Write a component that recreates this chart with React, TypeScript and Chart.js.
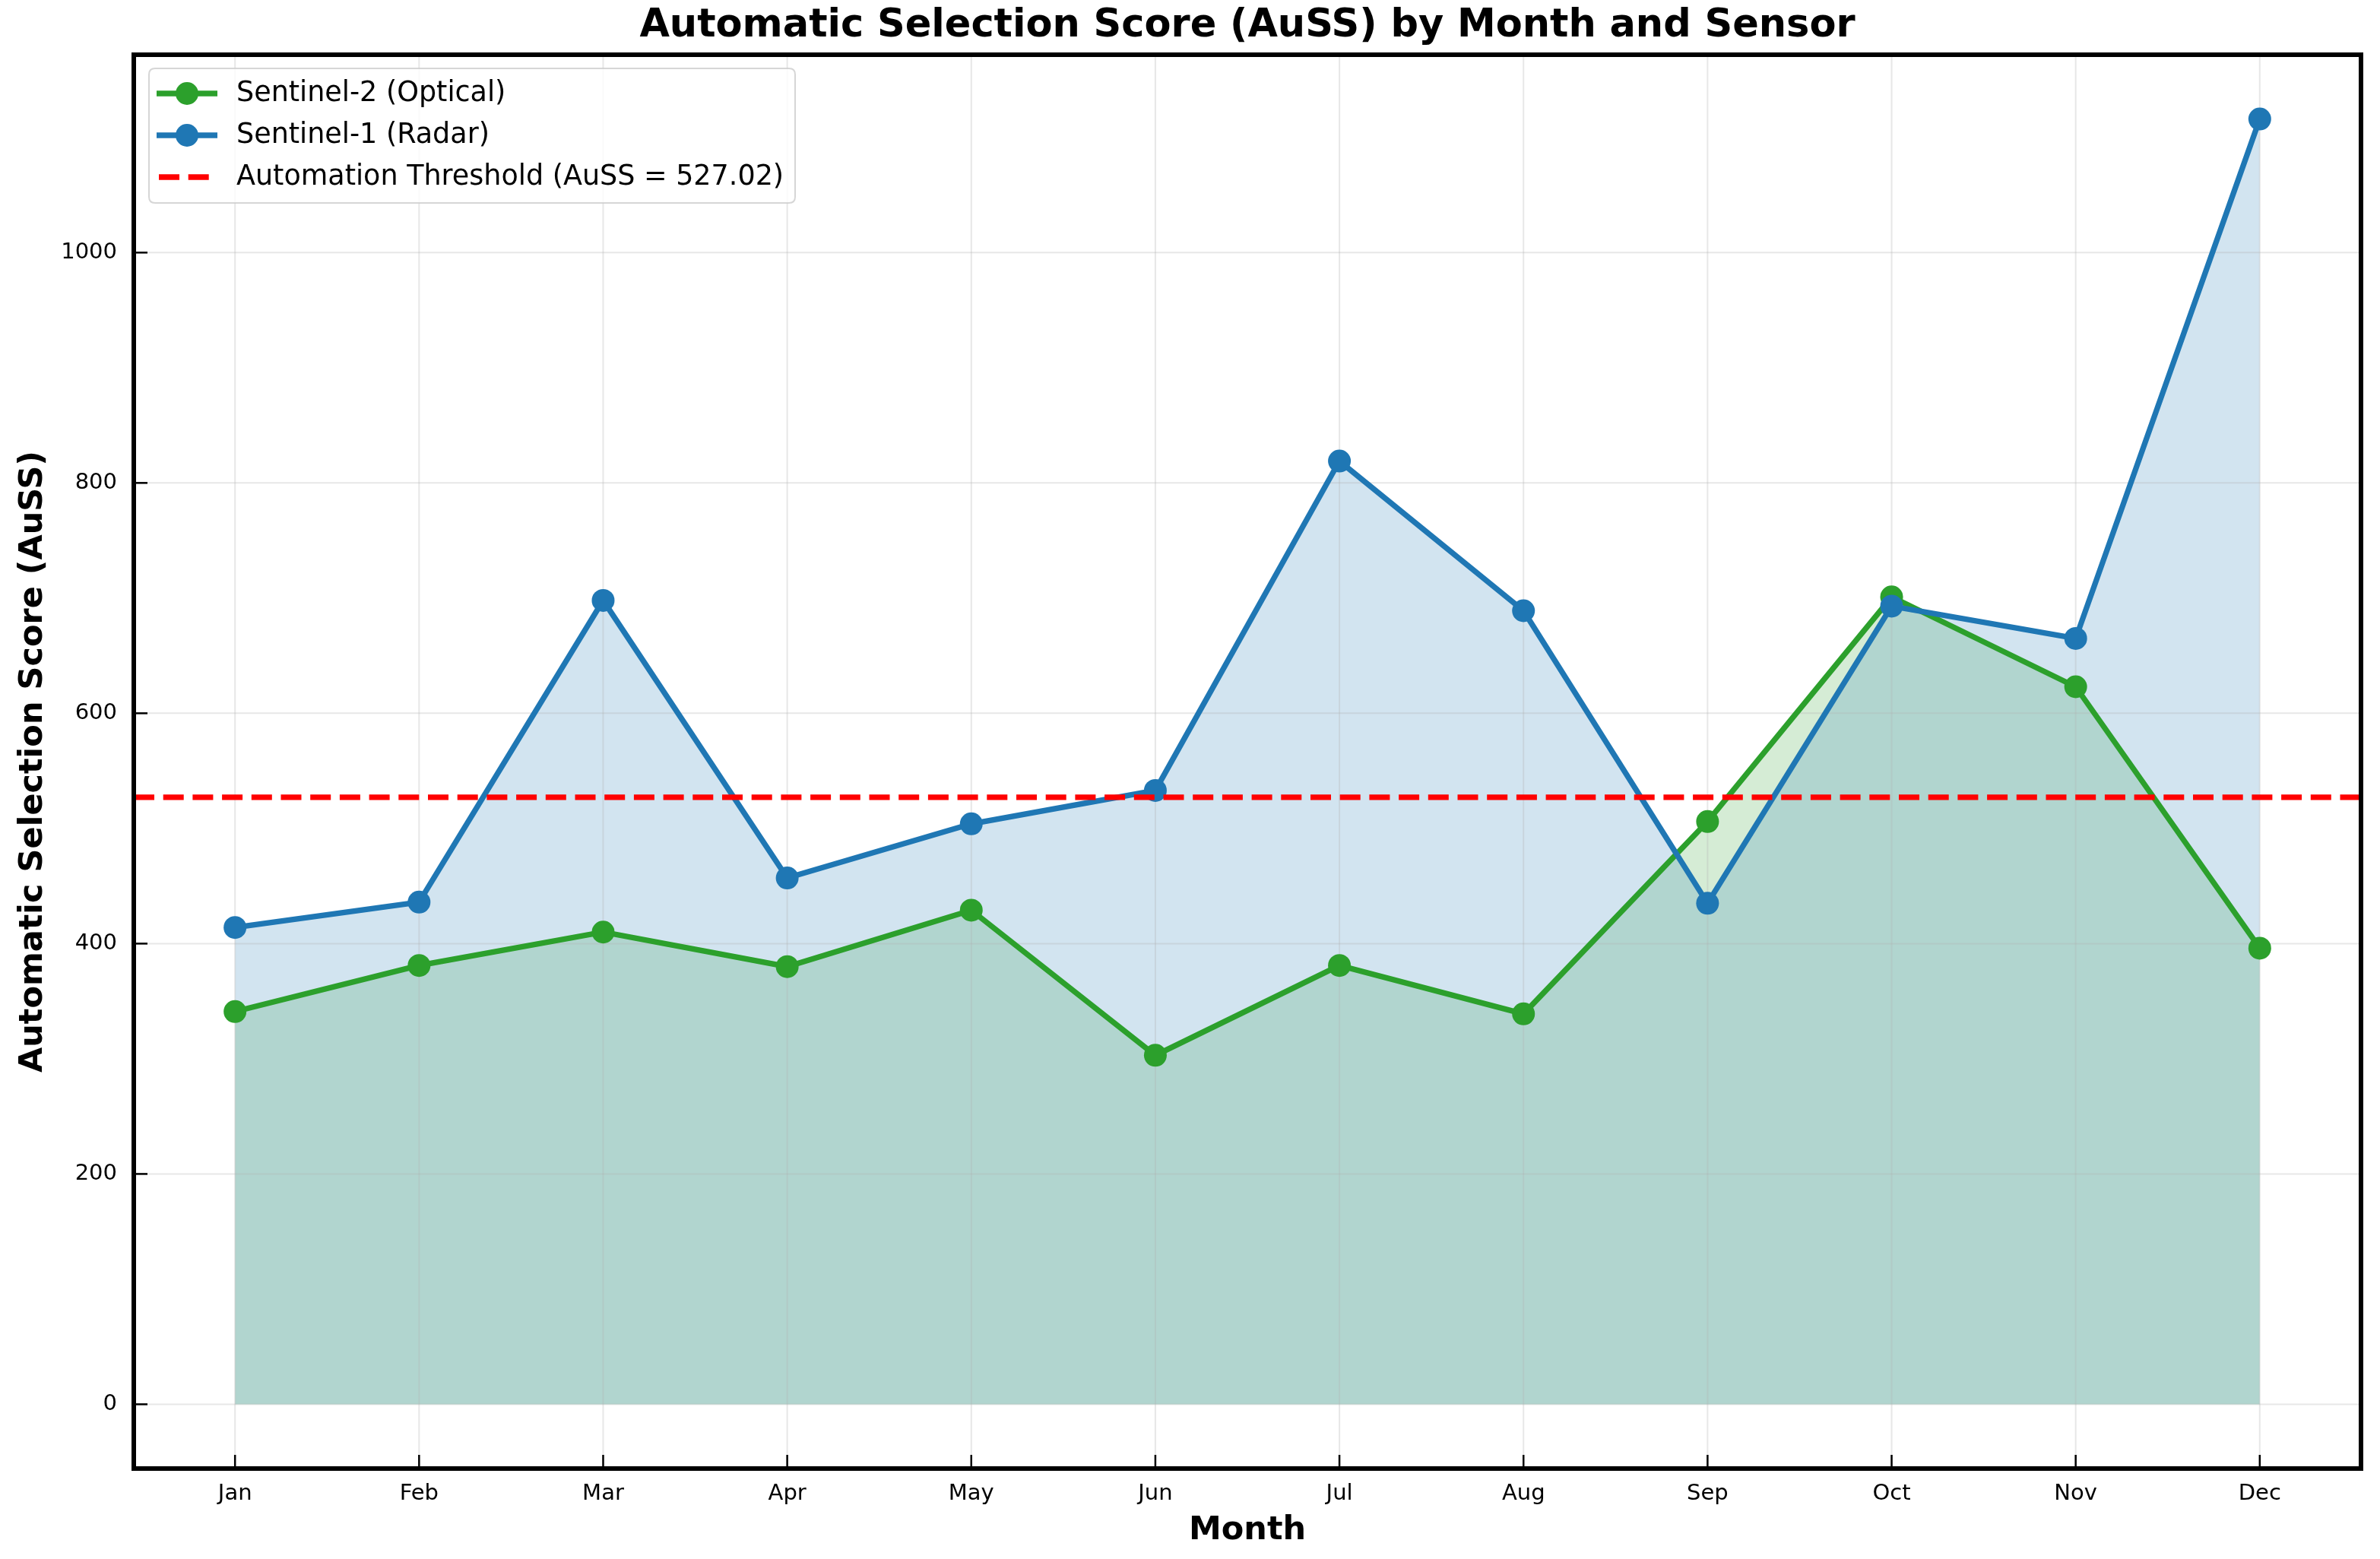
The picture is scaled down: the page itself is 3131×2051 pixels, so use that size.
import React, { useEffect, useRef } from "react";
import { Chart, registerables } from "chart.js";

Chart.register(...registerables);

const MONTHS = ["Jan", "Feb", "Mar", "Apr", "May", "Jun", "Jul", "Aug", "Sep", "Oct", "Nov", "Dec"];
const S2_OPTICAL = [341, 381, 410, 380, 429, 303, 381, 339, 506, 701, 623, 396];
const S1_RADAR = [414, 436, 698, 457, 504, 533, 819, 689, 435, 693, 665, 1116];
const THRESHOLD = 527.02;
const Y_TICKS = [0, 200, 400, 600, 800, 1000];
const TITLE = "Automatic Selection Score (AuSS) by Month and Sensor";

const W = 3131;
const H = 2051;
const FONT = "'DejaVu Sans', 'Liberation Sans', sans-serif";

const GREEN = "#2ca02c";
const BLUE = "#1f77b4";

export default function App() {
  const ref = useRef<HTMLCanvasElement | null>(null);

  useEffect(() => {
    const canvas = ref.current;
    if (!canvas) return;

    const n = MONTHS.length;
    const xPad = 0.05 * (n - 1);
    const X_MIN = -xPad;
    const X_MAX = n - 1 + xPad;
    const dataMax = Math.max(...S1_RADAR, ...S2_OPTICAL, THRESHOLD);
    const dataMin = Math.min(0, ...S1_RADAR, ...S2_OPTICAL);
    const yPad = 0.05 * (dataMax - dataMin);

    const thresholdLabel = `Automation Threshold (AuSS = ${THRESHOLD.toFixed(2)})`;

    const framePlugin = {
      id: "mplFrame",
      beforeDatasetsDraw(chart: any) {
        const { ctx, chartArea, scales } = chart;
        ctx.save();
        ctx.strokeStyle = "rgba(176,176,176,0.3)";
        ctx.lineWidth = 2;
        scales.x.ticks.forEach((t: any) => {
          const px = scales.x.getPixelForValue(t.value);
          ctx.beginPath();
          ctx.moveTo(px, chartArea.top);
          ctx.lineTo(px, chartArea.bottom);
          ctx.stroke();
        });
        scales.y.ticks.forEach((t: any) => {
          const py = scales.y.getPixelForValue(t.value);
          ctx.beginPath();
          ctx.moveTo(chartArea.left, py);
          ctx.lineTo(chartArea.right, py);
          ctx.stroke();
        });
        ctx.restore();
      },
      afterDraw(chart: any) {
        const { ctx, chartArea, scales } = chart;
        ctx.save();
        // title centred over the plot area
        ctx.fillStyle = "#000";
        ctx.font = `bold 51px ${FONT}`;
        ctx.textAlign = "center";
        ctx.textBaseline = "middle";
        ctx.fillText(TITLE, (chartArea.left + chartArea.right) / 2, 35);

        // inward tick marks
        ctx.strokeStyle = "#000";
        ctx.lineWidth = 2.5;
        const tl = 18;
        scales.x.ticks.forEach((t: any) => {
          const px = scales.x.getPixelForValue(t.value);
          ctx.beginPath();
          ctx.moveTo(px, chartArea.bottom);
          ctx.lineTo(px, chartArea.bottom - tl);
          ctx.stroke();
        });
        scales.y.ticks.forEach((t: any) => {
          const py = scales.y.getPixelForValue(t.value);
          ctx.beginPath();
          ctx.moveTo(chartArea.left, py);
          ctx.lineTo(chartArea.left + tl, py);
          ctx.stroke();
        });
        // frame
        ctx.lineWidth = 6;
        ctx.strokeRect(chartArea.left, chartArea.top, chartArea.right - chartArea.left, chartArea.bottom - chartArea.top);

        // legend
        const lx = chartArea.left + 20;
        const ly = chartArea.top + 18;
        const lw = 850;
        const lh = 177;
        const r = 8;
        ctx.beginPath();
        ctx.moveTo(lx + r, ly);
        ctx.lineTo(lx + lw - r, ly);
        ctx.quadraticCurveTo(lx + lw, ly, lx + lw, ly + r);
        ctx.lineTo(lx + lw, ly + lh - r);
        ctx.quadraticCurveTo(lx + lw, ly + lh, lx + lw - r, ly + lh);
        ctx.lineTo(lx + r, ly + lh);
        ctx.quadraticCurveTo(lx, ly + lh, lx, ly + lh - r);
        ctx.lineTo(lx, ly + r);
        ctx.quadraticCurveTo(lx, ly, lx + r, ly);
        ctx.closePath();
        ctx.fillStyle = "rgba(255,255,255,0.8)";
        ctx.fill();
        ctx.strokeStyle = "rgba(204,204,204,0.8)";
        ctx.lineWidth = 2;
        ctx.stroke();

        const order = [2, 1, 0];
        order.forEach((di, row) => {
          const ds = chart.data.datasets[di];
          const cy = ly + 33 + row * 55;
          const x0 = lx + 10;
          const x1 = lx + 90;
          ctx.strokeStyle = ds.borderColor;
          ctx.lineWidth = ds.borderWidth;
          ctx.setLineDash(ds.borderDash || []);
          ctx.beginPath();
          ctx.moveTo(x0 + (ds.borderDash ? 3 : 0), cy);
          ctx.lineTo(x1, cy);
          ctx.stroke();
          ctx.setLineDash([]);
          if (ds.pointRadius > 0) {
            ctx.fillStyle = ds.pointBackgroundColor;
            ctx.beginPath();
            ctx.arc((x0 + x1) / 2, cy, ds.pointRadius, 0, Math.PI * 2);
            ctx.fill();
          }
          ctx.fillStyle = "#000";
          ctx.font = `36.5px ${FONT}`;
          ctx.textAlign = "left";
          ctx.textBaseline = "middle";
          ctx.fillText(ds.label, lx + 115, cy + 1);
        });
        ctx.restore();
      },
    };

    const chart = new Chart(canvas, {
      type: "line",
      data: {
        datasets: [
          {
            label: thresholdLabel,
            data: [
              { x: X_MIN, y: THRESHOLD },
              { x: X_MAX, y: THRESHOLD },
            ],
            borderColor: "#ff0000",
            borderWidth: 7.3,
            borderDash: [27, 11.7],
            pointRadius: 0,
            fill: false,
            order: 0,
          } as any,
          {
            label: "Sentinel-1 (Radar)",
            data: S1_RADAR.map((v, i) => ({ x: i, y: v })),
            borderColor: BLUE,
            borderWidth: 7.3,
            pointRadius: 15,
            pointBackgroundColor: BLUE,
            pointBorderWidth: 0,
            fill: "origin",
            backgroundColor: "rgba(31,119,180,0.2)",
            tension: 0,
            order: 1,
          },
          {
            label: "Sentinel-2 (Optical)",
            data: S2_OPTICAL.map((v, i) => ({ x: i, y: v })),
            borderColor: GREEN,
            borderWidth: 7.3,
            pointRadius: 15,
            pointBackgroundColor: GREEN,
            pointBorderWidth: 0,
            fill: "origin",
            backgroundColor: "rgba(44,160,44,0.2)",
            tension: 0,
            order: 2,
          },
        ],
      },
      options: {
        animation: false,
        responsive: false,
        devicePixelRatio: 1,
        layout: { padding: { left: 0, right: 25, top: 72, bottom: 0 } },
        plugins: {
          legend: { display: false },
          tooltip: { enabled: false },
          title: { display: false },
          filler: { drawTime: "beforeDatasetsDraw" } as any,
        },
        scales: {
          x: {
            type: "linear",
            min: X_MIN,
            max: X_MAX,
            afterBuildTicks: (scale: any) => {
              scale.ticks = MONTHS.map((_, i) => ({ value: i }));
            },
            afterFit: (scale: any) => {
              scale.height = 119;
            },
            ticks: {
              callback: (v: any) => MONTHS[Math.round(v)] ?? "",
              color: "#000",
              font: { family: FONT, size: 29 },
              padding: 8,
              maxRotation: 0,
              autoSkip: false,
            },
            grid: { display: false },
            border: { display: false },
            title: {
              display: true,
              text: "Month",
              color: "#000",
              font: { family: FONT, size: 43, weight: "bold", lineHeight: 1.2 },
              padding: { top: 0, bottom: 11 },
            },
          },
          y: {
            type: "linear",
            min: dataMin - yPad,
            max: dataMax + yPad,
            afterBuildTicks: (scale: any) => {
              scale.ticks = Y_TICKS.map((v) => ({ value: v }));
            },
            afterFit: (scale: any) => {
              scale.width = 176;
            },
            ticks: {
              callback: (v: any) => String(v),
              color: "#000",
              font: { family: FONT, size: 29 },
              padding: 14,
              autoSkip: false,
            },
            grid: { display: false },
            border: { display: false },
            title: {
              display: true,
              text: "Automatic Selection Score (AuSS)",
              color: "#000",
              font: { family: FONT, size: 43, weight: "bold", lineHeight: 1.2 },
              padding: { top: 18, bottom: 0 },
            },
          },
        },
      } as any,
      plugins: [framePlugin],
    });

    return () => chart.destroy();
  }, []);

  return (
    <div style={{ position: "fixed", left: 0, top: 0, width: W, height: H, background: "#fff" }}>
      <canvas ref={ref} width={W} height={H} style={{ width: W, height: H, display: "block" }} />
    </div>
  );
}
